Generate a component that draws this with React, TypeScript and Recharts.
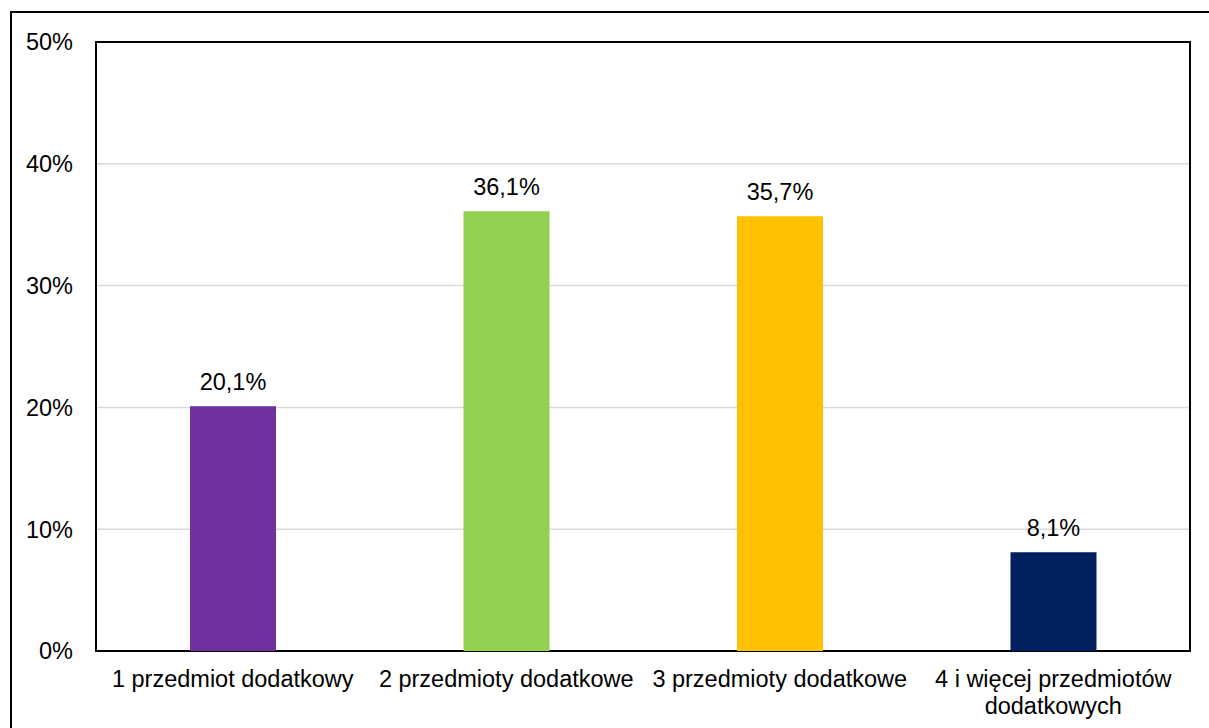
import React from "react";
import {
  BarChart,
  Bar,
  XAxis,
  YAxis,
  CartesianGrid,
  Cell,
  LabelList,
  ReferenceArea,
} from "recharts";

const categories = [
  "1 przedmiot dodatkowy",
  "2 przedmioty dodatkowe",
  "3 przedmioty dodatkowe",
  "4 i więcej przedmiotów dodatkowych",
];
const shares = [20.1, 36.1, 35.7, 8.1];
const barColors = ["#7030A0", "#92D050", "#FFC000", "#002060"];
const yTicks = [0, 10, 20, 30, 40, 50];

const data = categories.map((name, i) => ({ name, value: shares[i] }));

const FONT = "'Liberation Sans', Arial, sans-serif";
const FS = 23.5;

// category labels: the long one goes on two lines like the original
function CategoryTick(props: any) {
  const { x, y, payload } = props;
  const label: string = payload.value;
  const words = label.split(" ");
  const lines =
    words.length > 3
      ? [words.slice(0, 4).join(" "), words.slice(4).join(" ")]
      : [label];
  return (
    <text
      x={x}
      y={y + 28}
      textAnchor="middle"
      fill="#000"
      fontSize={FS}
      fontFamily={FONT}
    >
      {lines.map((l, i) => (
        <tspan key={i} x={x} dy={i === 0 ? 0 : 27}>
          {l}
        </tspan>
      ))}
    </text>
  );
}

export default function App() {
  return (
    <div
      style={{
        position: "fixed",
        left: 0,
        top: 0,
        width: 1209,
        height: 728,
        overflow: "hidden",
        background: "#fff",
      }}
    >
      <div
        style={{
          position: "absolute",
          left: 10,
          top: 11,
          width: 1300,
          height: 800,
          border: "2px solid #000",
        }}
      />
      <div style={{ position: "absolute", left: 0, top: 0 }}>
        <BarChart
          width={1209}
          height={728}
          data={data}
          margin={{ top: 42, right: 19, left: 0, bottom: 0 }}
        >
          <CartesianGrid vertical={false} stroke="#D9D9D9" strokeWidth={1.5} />
          <XAxis
            dataKey="name"
            height={77}
            axisLine={false}
            tickLine={false}
            interval={0}
            tick={<CategoryTick />}
          />
          <YAxis
            width={96}
            domain={[0, 50]}
            ticks={yTicks}
            axisLine={false}
            tickLine={false}
            tickMargin={17}
            tickFormatter={(v: number) => `${v}%`}
            tick={{ fill: "#000", fontSize: FS, fontFamily: FONT }}
          />
          <Bar dataKey="value" barSize={86} isAnimationActive={false}>
            {data.map((d, i) => (
              <Cell key={d.name} fill={barColors[i]} />
            ))}
            <LabelList
              dataKey="value"
              position="top"
              offset={16}
              fill="#000"
              fontSize={FS}
              fontFamily={FONT}
              formatter={(v: any) => `${String(v).replace(".", ",")}%`}
            />
          </Bar>
          <ReferenceArea
            y1={0}
            y2={50}
            fill="none"
            stroke="#000"
            strokeWidth={2}
            ifOverflow="visible"
          />
        </BarChart>
      </div>
    </div>
  );
}
